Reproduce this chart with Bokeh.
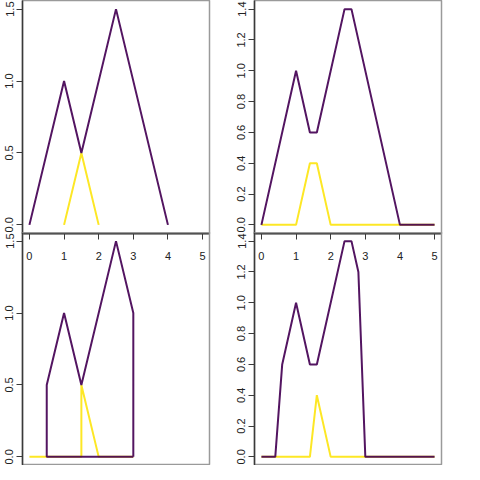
from bokeh.plotting import figure
from bokeh.layouts import column, row
from bokeh.models import FixedTicker, Range1d, NumeralTickFormatter
from bokeh.embed import file_html
from bokeh.resources import INLINE

PURPLE = "#440154"
YELLOW = "#FDE725"

# x ticks shared by all panels
x_ticks = [0, 1, 2, 3, 4, 5]

# Panel 1 (top left)
p1_purple_x = [0, 1, 1.5, 2.5, 4]
p1_purple_y = [0, 1, 0.5, 1.5, 0]
p1_yellow_x = [1, 1.5, 2]
p1_yellow_y = [0, 0.5, 0]
p1_y_ticks = [0, 0.5, 1.0, 1.5]

# Panel 2 (top right)
p2_purple_x = [0, 1, 1.4, 1.6, 2.4, 2.6, 4, 5]
p2_purple_y = [0, 1, 0.6, 0.6, 1.4, 1.4, 0, 0]
p2_yellow_x = [0, 1, 1.4, 1.6, 2, 4, 5]
p2_yellow_y = [0, 0, 0.4, 0.4, 0, 0, 0]
p2_y_ticks = [0, 0.2, 0.4, 0.6, 0.8, 1.0, 1.2, 1.4]

# Panel 3 (bottom left)
p3_purple_x = [3, 0.5, 0.5, 1, 1.5, 2.5, 3, 3]
p3_purple_y = [0, 0, 0.5, 1, 0.5, 1.5, 1, 0]
p3_yellow_x = [0, 1.5, 1.5, 2, 3]
p3_yellow_y = [0, 0, 0.5, 0, 0]
p3_y_ticks = [0, 0.5, 1.0, 1.5]

# Panel 4 (bottom right)
p4_purple_x = [0, 0.4, 0.6, 1, 1.4, 1.6, 2.4, 2.6, 2.8, 3, 5]
p4_purple_y = [0, 0, 0.6, 1, 0.6, 0.6, 1.4, 1.4, 1.2, 0, 0]
p4_yellow_x = [0, 1.4, 1.6, 2, 5]
p4_yellow_y = [0, 0, 0.4, 0, 0]
p4_y_ticks = [0, 0.2, 0.4, 0.6, 0.8, 1.0, 1.2, 1.4]

FONT = "Liberation Sans"
TOP_BORDER_BOTTOM = 42


def panel(px, py, yx, yy, yticks, top):
    ymax = max(yticks)
    p = figure(width=232, height=233 + TOP_BORDER_BOTTOM if top else 233,
               x_range=Range1d(-0.2, 5.2),
               y_range=Range1d(-0.04 * ymax, 1.04 * ymax),
               output_backend="svg", toolbar_location=None,
               min_border_left=22, min_border_right=23,
               min_border_top=0,
               min_border_bottom=TOP_BORDER_BOTTOM if top else 0,
               x_axis_location="below" if top else None)
    p.grid.visible = False
    p.outline_line_color = "#9a9a9a"
    p.outline_line_width = 1.5
    if not top:
        p.background_fill_alpha = 0
        p.border_fill_alpha = 0
    p.line(yx, yy, line_color=YELLOW, line_width=2)
    p.line(px, py, line_color=PURPLE, line_width=2, line_alpha=0.92)
    ya = p.yaxis[0]
    ya.ticker = FixedTicker(ticks=yticks)
    ya.formatter = NumeralTickFormatter(format="0.0")
    ya.major_label_orientation = "vertical"
    ya.major_tick_out = 6
    ya.major_tick_in = 0
    ya.minor_tick_line_color = None
    ya.axis_line_color = "#3a3a3a"
    ya.axis_line_width = 1.5
    ya.major_tick_line_color = "#3a3a3a"
    ya.major_label_standoff = 3
    ya.major_label_text_font = FONT
    ya.major_label_text_font_size = "11px"
    ya.major_label_text_color = "#222222"
    if top:
        xa = p.xaxis[0]
        xa.ticker = FixedTicker(ticks=x_ticks)
        xa.major_tick_out = 6
        xa.major_tick_in = 0
        xa.minor_tick_line_color = None
        xa.axis_line_color = "#3a3a3a"
        xa.axis_line_width = 2
        xa.major_tick_line_color = "#3a3a3a"
        xa.major_label_standoff = 12
        xa.major_label_text_font = FONT
        xa.major_label_text_font_size = "11px"
        xa.major_label_text_color = "#222222"
    return p


tl = panel(p1_purple_x, p1_purple_y, p1_yellow_x, p1_yellow_y, p1_y_ticks, True)
tr = panel(p2_purple_x, p2_purple_y, p2_yellow_x, p2_yellow_y, p2_y_ticks, True)
bl = panel(p3_purple_x, p3_purple_y, p3_yellow_x, p3_yellow_y, p3_y_ticks, False)
br = panel(p4_purple_x, p4_purple_y, p4_yellow_x, p4_yellow_y, p4_y_ticks, False)

layout = column(row(tl, tr),
                row(bl, br, margin=(-(TOP_BORDER_BOTTOM + 1), 0, 0, 0)))

open("out.html", "w").write(file_html(layout, INLINE))
